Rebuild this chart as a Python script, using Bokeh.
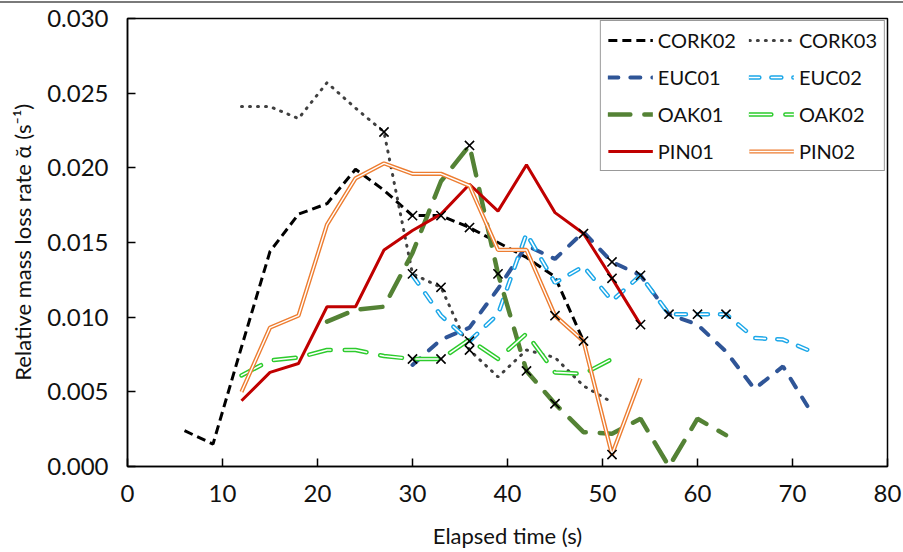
from bokeh.plotting import figure
from bokeh.models import Range1d, FixedTicker, NumeralTickFormatter, Legend, LegendItem
from bokeh.embed import file_html
from bokeh.resources import INLINE

FONT = "Lato"

# ---- data ----
x_ticks = [0, 10, 20, 30, 40, 50, 60, 70, 80]
y_ticks = [0.0, 0.005, 0.010, 0.015, 0.020, 0.025, 0.030]

cork02_t = [6, 9, 12, 15, 18, 21, 24, 27, 30, 33, 36, 39, 42, 45, 48]
cork02_v = [0.0024, 0.0015, 0.0080, 0.0144, 0.0169, 0.0176, 0.0199, 0.0185, 0.0168, 0.0168, 0.0160, 0.0150, 0.0140, 0.0127, 0.0084]

cork03_t = [12, 15, 18, 21, 24, 27, 30, 33, 36, 39, 42, 45, 48, 51]
cork03_v = [0.0241, 0.0241, 0.0233, 0.0257, 0.0240, 0.0224, 0.0129, 0.0120, 0.0078, 0.0060, 0.0078, 0.0073, 0.0054, 0.0043]

euc01_t = [30, 33, 36, 39, 42, 45, 48, 51, 54, 57, 60, 63, 66, 69, 72]
euc01_v = [0.0068, 0.0085, 0.0093, 0.0119, 0.0148, 0.0139, 0.0157, 0.0137, 0.0128, 0.0102, 0.0095, 0.0077, 0.0052, 0.0067, 0.0036]

euc02_t = [30, 33, 36, 39, 42, 45, 48, 51, 54, 57, 60, 63, 66, 69, 72]
euc02_v = [0.0128, 0.0101, 0.0084, 0.0102, 0.0156, 0.0123, 0.0134, 0.0111, 0.0128, 0.0102, 0.0102, 0.0102, 0.0086, 0.0085, 0.0077]

oak01_t = [21, 24, 27, 30, 33, 36, 39, 42, 45, 48, 51, 54, 57, 60, 63]
oak01_v = [0.0097, 0.0105, 0.0107, 0.0143, 0.0191, 0.0215, 0.0129, 0.0064, 0.0042, 0.0023, 0.0022, 0.0032, 0.0000, 0.0032, 0.0021]

oak02_t = [12, 15, 18, 21, 24, 27, 30, 33, 36, 39, 42, 45, 48, 51]
oak02_v = [0.0061, 0.0071, 0.0073, 0.0078, 0.0078, 0.0074, 0.0072, 0.0072, 0.0085, 0.0072, 0.0089, 0.0063, 0.0062, 0.0072]

pin01_t = [12, 15, 18, 21, 24, 27, 30, 33, 36, 39, 42, 45, 48, 51, 54]
pin01_v = [0.0044, 0.0063, 0.0069, 0.0107, 0.0107, 0.0145, 0.0158, 0.0169, 0.0189, 0.0171, 0.0202, 0.0170, 0.0156, 0.0126, 0.0095]

pin02_t = [12, 15, 18, 21, 24, 27, 30, 33, 36, 39, 42, 45, 48, 51, 54]
pin02_v = [0.0050, 0.0093, 0.0101, 0.0162, 0.0193, 0.0203, 0.0196, 0.0196, 0.0188, 0.0145, 0.0145, 0.0101, 0.0084, 0.0008, 0.0059]

mark_t = [27, 30, 33, 36, 36, 30, 33, 30, 33, 36, 36, 39, 42, 45, 45, 48, 48, 51, 51, 51, 54, 54, 57, 60, 63]
mark_v = [0.0224, 0.0168, 0.0168, 0.0215, 0.0160, 0.0129, 0.0120, 0.0072, 0.0072, 0.0084, 0.0078,
          0.0129, 0.0064, 0.0042, 0.0101, 0.0084, 0.0156, 0.0137, 0.0126, 0.0008, 0.0128, 0.0095,
          0.0102, 0.0102, 0.0102]

# ---- figure ----
p = figure(width=903, height=549, x_range=Range1d(0, 80), y_range=Range1d(0, 0.03),
           output_backend="svg", toolbar_location=None,
           min_border_left=127, min_border_right=16, min_border_top=15, min_border_bottom=86,
           x_axis_label="Elapsed time (s)", y_axis_label="Relative mass loss rate ᾰ (s⁻¹)")
p.styles = {"border-top": "2px solid #7a7a7a", "margin-top": "1px"}
p.xgrid.visible = False
p.ygrid.visible = False
p.outline_line_color = "black"
p.outline_line_width = 1.5
p.background_fill_color = "white"
p.border_fill_color = "white"

for ax in (p.xaxis[0], p.yaxis[0]):
    ax.major_tick_in = 8
    ax.major_tick_out = 0
    ax.minor_tick_in = 0
    ax.minor_tick_out = 0
    ax.axis_line_color = "black"
    ax.axis_line_width = 1.5
    ax.major_tick_line_color = "black"
    ax.major_tick_line_width = 1.5
    ax.major_label_text_font = FONT
    ax.major_label_text_font_size = "24px"
    ax.major_label_text_color = "#111111"
    ax.axis_label_text_font = FONT
    ax.axis_label_text_font_size = "22px"
    ax.axis_label_text_font_style = "normal"
    ax.axis_label_text_color = "#111111"

p.xaxis.ticker = FixedTicker(ticks=x_ticks)
p.yaxis.ticker = FixedTicker(ticks=y_ticks)
p.yaxis.formatter = NumeralTickFormatter(format="0.000")
p.xaxis.major_label_standoff = 18
p.yaxis.major_label_standoff = 19
p.xaxis.axis_label_standoff = 17
p.yaxis.axis_label_standoff = 8

items = {}

r = p.line(cork02_t, cork02_v, line_color="black", line_width=3, line_dash="9 5")
items["CORK02"] = [r]
r = p.line(cork03_t, cork03_v, line_color="#404040", line_width=3, line_dash="1 7", line_cap="round")
items["CORK03"] = [r]
r = p.line(euc01_t, euc01_v, line_color="#2F5597", line_width=4, line_dash="10 12", line_cap="round")
items["EUC01"] = [r]
r1 = p.line(euc02_t, euc02_v, line_color="#1CA7E8", line_width=4.5, line_dash="10 12", line_cap="round")
r2 = p.line(euc02_t, euc02_v, line_color="white", line_width=1.6, line_dash="10 12", line_cap="round")
items["EUC02"] = [r1, r2]
r = p.line(oak01_t, oak01_v, line_color="#548235", line_width=4.5, line_dash="22 14", line_cap="round")
items["OAK01"] = [r]
r1 = p.line(oak02_t, oak02_v, line_color="#2DCB2D", line_width=4.5, line_dash="22 14", line_cap="round")
r2 = p.line(oak02_t, oak02_v, line_color="white", line_width=1.6, line_dash="22 14", line_cap="round")
items["OAK02"] = [r1, r2]
r = p.line(pin01_t, pin01_v, line_color="#C00000", line_width=3)
items["PIN01"] = [r]
r1 = p.line(pin02_t, pin02_v, line_color="#ED7D31", line_width=4.2)
r2 = p.line(pin02_t, pin02_v, line_color="white", line_width=1.4)
items["PIN02"] = [r1, r2]

p.scatter(mark_t, mark_v, marker="x", size=13, line_color="black", line_width=1.6)

order = ["CORK02", "EUC01", "OAK01", "PIN01", "CORK03", "EUC02", "OAK02", "PIN02"]
legend = Legend(items=[LegendItem(label=k, renderers=items[k]) for k in order],
                location="top_right", ncols=2, orientation="vertical")
legend.label_text_font = FONT
legend.label_text_font_size = "20px"
legend.label_text_color = "#111111"
legend.glyph_width = 45
legend.glyph_height = 20
legend.label_height = 20
legend.label_standoff = 5
legend.spacing = 13
legend.padding = 7
legend.margin = 2
legend.border_line_color = "#333333"
legend.border_line_width = 1.5
legend.background_fill_alpha = 1.0
p.add_layout(legend)

open("out.html", "w").write(file_html(p, INLINE))
